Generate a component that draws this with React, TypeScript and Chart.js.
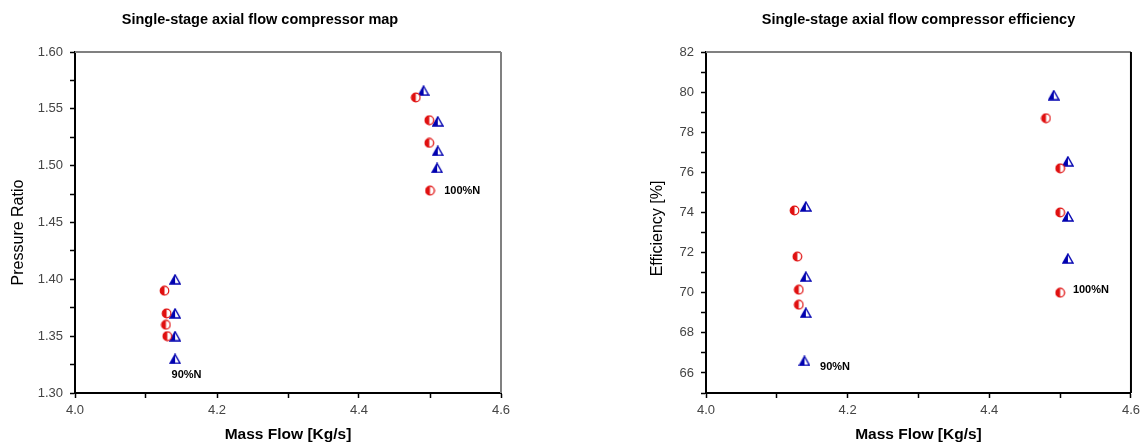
import React, { useEffect, useRef } from "react";
import { Chart, registerables } from "chart.js";

Chart.register(...registerables);

// ---------- data ----------
// Pressure ratio map
const prCircleX = [4.126, 4.129, 4.128, 4.130, 4.480, 4.499, 4.499, 4.500];
const prCircleY = [1.390, 1.370, 1.360, 1.350, 1.560, 1.540, 1.520, 1.478];
const prTriX = [4.141, 4.141, 4.141, 4.141, 4.491, 4.511, 4.511, 4.510];
const prTriY = [1.400, 1.370, 1.350, 1.330, 1.566, 1.539, 1.513, 1.498];

// Efficiency map
const efCircleX = [4.125, 4.129, 4.131, 4.131, 4.480, 4.500, 4.500, 4.500];
const efCircleY = [74.1, 71.8, 70.15, 69.4, 78.7, 76.2, 74.0, 70.0];
const efTriX = [4.141, 4.141, 4.141, 4.139, 4.491, 4.511, 4.511, 4.511];
const efTriY = [74.3, 70.8, 69.0, 66.6, 79.85, 76.55, 73.8, 71.7];

// Speed-line labels
const speedLabels = ["100%N", "90%N"];
const prLabelX = [4.52, 4.136];
const prLabelY = [1.4776, 1.3157];
const efLabelX = [4.518, 4.161];
const efLabelY = [70.15, 66.3];

// Axis ranges / ticks
const xMin = 4.0, xMax = 4.6, xStep = 0.1;
const prMin = 1.3, prMax = 1.6, prStep = 0.025;
const efMin = 65, efMax = 82, efStep = 1;

const titles = [
  "Single-stage axial flow compressor map",
  "Single-stage axial flow compressor efficiency",
];
const xTitle = "Mass Flow [Kg/s]";
const yTitles = ["Pressure Ratio", "Efficiency [%]"];

const FONT = "'Liberation Sans', Arial, Helvetica, sans-serif";

function zip(xs: number[], ys: number[]) {
  return xs.map((x, i) => ({ x, y: ys[i] }));
}

function makeCircle(): HTMLCanvasElement {
  const c = document.createElement("canvas");
  c.width = 11;
  c.height = 11;
  const g = c.getContext("2d")!;
  const r = 4.3;
  g.beginPath();
  g.arc(5.5, 5.5, r, 0, Math.PI * 2);
  g.fillStyle = "#ffffff";
  g.fill();
  g.beginPath();
  g.moveTo(5.5, 5.5 - r);
  g.arc(5.5, 5.5, r, -Math.PI / 2, Math.PI / 2, true);
  g.closePath();
  g.fillStyle = "#e01010";
  g.fill();
  g.beginPath();
  g.arc(5.5, 5.5, r, 0, Math.PI * 2);
  g.strokeStyle = "#e01010";
  g.lineWidth = 1.2;
  g.stroke();
  return c;
}

function makeTriangle(): HTMLCanvasElement {
  const c = document.createElement("canvas");
  c.width = 12;
  c.height = 11;
  const g = c.getContext("2d")!;
  g.beginPath();
  g.moveTo(6, 1);
  g.lineTo(11, 10);
  g.lineTo(1, 10);
  g.closePath();
  g.fillStyle = "#ffffff";
  g.fill();
  g.beginPath();
  g.moveTo(6, 1);
  g.lineTo(6, 10);
  g.lineTo(1, 10);
  g.closePath();
  g.fillStyle = "#0000b0";
  g.fill();
  g.beginPath();
  g.moveTo(6, 1);
  g.lineTo(11, 10);
  g.lineTo(1, 10);
  g.closePath();
  g.strokeStyle = "#0000b0";
  g.lineWidth = 1.4;
  g.stroke();
  return c;
}

const framePlugin = (rightColor: string) => ({
  id: "frame",
  afterDraw(chart: any) {
    const { ctx, chartArea } = chart;
    ctx.save();
    ctx.lineWidth = 2;
    ctx.strokeStyle = "#808080";
    ctx.beginPath();
    ctx.moveTo(chartArea.left, chartArea.top);
    ctx.lineTo(chartArea.right, chartArea.top);
    ctx.stroke();
    ctx.strokeStyle = rightColor;
    ctx.beginPath();
    ctx.moveTo(chartArea.right, chartArea.top);
    ctx.lineTo(chartArea.right, chartArea.bottom);
    ctx.stroke();
    ctx.restore();
  },
});

const labelPlugin = (xs: number[], ys: number[]) => ({
  id: "speedLabels",
  afterDatasetsDraw(chart: any) {
    const { ctx } = chart;
    const sx = chart.scales.x;
    const sy = chart.scales.y;
    ctx.save();
    ctx.font = `bold 11px ${FONT}`;
    ctx.fillStyle = "#000";
    ctx.textAlign = "left";
    ctx.textBaseline = "middle";
    speedLabels.forEach((t, i) => {
      ctx.fillText(t, sx.getPixelForValue(xs[i]), sy.getPixelForValue(ys[i]));
    });
    ctx.restore();
  },
});

// vertical axis title, placed at a given x and slightly below the axis centre
const yTitlePlugin = (text: string, x: number, dy: number) => ({
  id: "yTitle",
  afterDraw(chart: any) {
    const { ctx, chartArea } = chart;
    ctx.save();
    ctx.font = `16px ${FONT}`;
    ctx.fillStyle = "#000";
    ctx.textAlign = "center";
    ctx.textBaseline = "middle";
    ctx.translate(x, (chartArea.top + chartArea.bottom) / 2 + dy);
    ctx.rotate(-Math.PI / 2);
    ctx.fillText(text, 0, 0);
    ctx.restore();
  },
});

function buildConfig(opts: {
  circles: { x: number; y: number }[];
  tris: { x: number; y: number }[];
  title: string;
  yMin: number;
  yMax: number;
  yStep: number;
  isMajorY: (v: number) => boolean;
  fmtY: (v: number) => string;
  padding: any;
  yWidth: number;
  titleFull: boolean;
  plugins: any[];
}) {
  const tickColor = "#444";
  return {
    type: "scatter",
    data: {
      datasets: [
        {
          data: opts.circles,
          pointStyle: makeCircle(),
          pointRadius: 5,
          showLine: false,
        },
        {
          data: opts.tris,
          pointStyle: makeTriangle(),
          pointRadius: 5,
          showLine: false,
        },
      ],
    },
    options: {
      animation: false,
      responsive: false,
      maintainAspectRatio: false,
      layout: { padding: opts.padding },
      plugins: {
        legend: { display: false },
        tooltip: { enabled: false },
        title: {
          display: true,
          text: opts.title,
          fullSize: opts.titleFull,
          color: "#000",
          font: { family: FONT, size: 14.5, weight: "bold" },
          padding: { top: 10.8, bottom: 23.8 },
        },
      },
      scales: {
        x: {
          type: "linear",
          min: xMin,
          max: xMax,
          afterFit: (s: any) => {
            s.height = 50;
          },
          ticks: {
            stepSize: xStep,
            color: tickColor,
            padding: 5,
            font: { family: FONT, size: 13 },
            callback: (v: number) => {
              const k = Math.round(v * 10);
              return k % 2 === 0 ? (k / 10).toFixed(1) : "";
            },
          },
          grid: {
            drawOnChartArea: false,
            drawTicks: true,
            tickLength: 5,
            tickColor: "#000",
            tickWidth: 1.5,
          },
          border: { display: true, color: "#000", width: 2 },
          title: {
            display: true,
            text: xTitle,
            color: "#000",
            font: { family: FONT, size: 15.5, weight: "bold" },
            padding: { top: 0, bottom: -1.5 },
          },
        },
        y: {
          type: "linear",
          min: opts.yMin,
          max: opts.yMax,
          afterFit: (s: any) => {
            s.width = opts.yWidth;
          },
          ticks: {
            stepSize: opts.yStep,
            color: tickColor,
            padding: 7,
            font: { family: FONT, size: 13 },
            callback: (v: number) => (opts.isMajorY(v) ? opts.fmtY(v) : ""),
          },
          grid: {
            drawOnChartArea: false,
            drawTicks: true,
            tickLength: 5,
            tickColor: "#000",
            tickWidth: 1.5,
          },
          border: { display: true, color: "#000", width: 2 },
          title: { display: false },
        },
      },
    },
    plugins: opts.plugins,
  } as any;
}

export default function App() {
  const leftRef = useRef<HTMLCanvasElement>(null);
  const rightRef = useRef<HTMLCanvasElement>(null);

  useEffect(() => {
    Chart.defaults.font.family = FONT;
    const left = new Chart(
      leftRef.current!,
      buildConfig({
        circles: zip(prCircleX, prCircleY),
        tris: zip(prTriX, prTriY),
        title: titles[0],
        yMin: prMin,
        yMax: prMax,
        yStep: prStep,
        isMajorY: (v) => Math.round(v * 1000) % 50 === 0,
        fmtY: (v) => v.toFixed(2),
        padding: { left: 19, right: 69, top: 0, bottom: 0 },
        yWidth: 56,
        titleFull: true,
        plugins: [
          framePlugin("#808080"),
          labelPlugin(prLabelX, prLabelY),
          yTitlePlugin(yTitles[0], 18.5, 10),
        ],
      })
    );
    const right = new Chart(
      rightRef.current!,
      buildConfig({
        circles: zip(efCircleX, efCircleY),
        tris: zip(efTriX, efTriY),
        title: titles[1],
        yMin: efMin,
        yMax: efMax,
        yStep: efStep,
        isMajorY: (v) => Math.round(v) % 2 === 0,
        fmtY: (v) => String(Math.round(v)),
        padding: { left: 0, right: 10, top: 0, bottom: 0 },
        yWidth: 136,
        titleFull: false,
        plugins: [
          framePlugin("#000000"),
          labelPlugin(efLabelX, efLabelY),
          yTitlePlugin(yTitles[1], 88, 6),
        ],
      })
    );
    return () => {
      left.destroy();
      right.destroy();
    };
  }, []);

  return (
    <div
      style={{
        position: "absolute",
        left: 0,
        top: 0,
        width: 1141,
        height: 443,
        background: "#fff",
        overflow: "hidden",
      }}
    >
      <canvas
        ref={leftRef}
        width={570}
        height={443}
        style={{ position: "absolute", left: 0, top: 0, width: 570, height: 443 }}
      />
      <canvas
        ref={rightRef}
        width={575}
        height={443}
        style={{ position: "absolute", left: 570, top: 0, width: 575, height: 443 }}
      />
    </div>
  );
}
